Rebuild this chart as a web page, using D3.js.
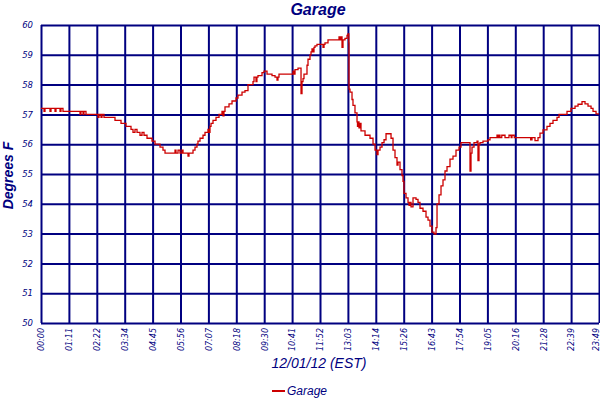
<!DOCTYPE html>
<html>
<head>
<meta charset="utf-8">
<script src="https://cdn.jsdelivr.net/npm/d3@7"></script>
<style>
  html, body { margin: 0; padding: 0; background: #fff; }
  svg { display: block; }
</style>
</head>
<body>
<svg id="chart" width="600" height="400"></svg>
<script>
// ---- data ----
const title = "Garage";
const xTitle = "12/01/12 (EST)";
const yTitle = "Degrees F";
const seriesName = "Garage";
const tickLabels = ["00:00","01:11","02:22","03:34","04:45","05:56","07:07","08:18","09:30","10:41",
  "11:52","13:03","14:14","15:26","16:43","17:54","19:05","20:16","21:28","22:39","23:49"];
const totalMinutes = 1429;
const yTicks = [50,51,52,53,54,55,56,57,58,59,60];

// minutes since 00:00
const minutes = [0,7.7,10.2,23,25.6,35.9,38.4,48.7,51.2,56.3,99.9,102.4,107.6,110.1,115.2,146,148.5,153.7,156.2,161.3,
  189.5,204.9,217.7,230.5,235.6,240.7,245.9,253.5,258.7,263.8,271.5,284.3,292,304.8,312.4,317.6,343.2,345.7,350.9,356,
  361.1,363.7,376.5,379,389.3,394.4,399.5,402,407.2,414.9,420,427.7,430.2,432.8,435.4,440.5,448.2,455.9,463.5,466.1,
  468.6,471.2,481.5,489.2,499.4,504.5,514.8,522.4,530.1,542.9,545.5,550.6,553,555.7,566,571.1,578.8,591.6,599.3,604.4,
  606.9,609.5,637.7,645.4,647.9,650.5,658.2,663.3,665.9,668.4,671,673.5,681.2,683.8,688.9,691.5,694,696.6,699.1,701.7,
  706.8,719.6,722.2,724.8,727.3,735,758.1,763.2,765.8,768.3,770.9,773.4,778.5,783.7,786.2,788.3,788.8,791.3,796.5,799,
  804.1,809.3,810.5,811.8,814.3,816.9,819.5,822.1,829.8,842.6,850.3,855.4,860.5,863.1,868.2,873.3,878.5,883.6,891.3,896.4,
  901.5,906.6,911.7,914.3,919.4,924.5,927.1,929.6,934.8,939.9,942.5,945,947.6,952.7,960.4,965.5,970.6,978.3,986,991.1,
  996.2,1001.4,1006.5,1009,1011.6,1014.2,1019.3,1024.4,1029.5,1034.6,1039.8,1047.4,1055.1,1062.8,1070.5,1075.6,1096.1,1098.7,1101.2,1103.8,
  1108.9,1116.6,1119.1,1121.7,1124.3,1131.9,1144.7,1149.9,1167.8,1170,1172.6,1175.5,1180,1188.3,1198.5,1204,1206.2,1212,1219,1226.7,
  1252.3,1254,1257.4,1265.1,1272.8,1277.9,1285.6,1295.8,1303.5,1311.2,1321.5,1326.6,1341.9,1347.1,1357.3,1367.6,1375.3,1385.5,1393.2,1400.9,
  1408.6,1413.7,1421.4,1429];

const temps = [57.2,57.1,57.2,57.1,57.2,57.1,57.2,57.1,57.2,57.1,57.0,57.1,57.0,57.1,57.0,56.9,57.0,56.9,57.0,56.9,
  56.8,56.7,56.6,56.5,56.4,56.5,56.4,56.3,56.4,56.3,56.2,56.1,56.0,55.9,55.8,55.7,55.8,55.7,55.8,55.7,
  55.8,55.7,55.6,55.7,55.8,55.9,56.0,56.1,56.2,56.3,56.4,56.5,56.4,56.6,56.7,56.8,56.9,57.0,57.1,56.95,
  57.1,57.25,57.35,57.45,57.55,57.65,57.75,57.8,58.0,58.1,58.25,58.1,58.25,58.3,58.4,58.45,58.35,58.3,58.25,58.15,
  58.25,58.35,58.35,58.45,58.35,58.5,58.55,58.55,57.7,58.1,58.2,58.35,58.65,58.85,59.0,59.1,59.2,59.1,59.25,59.3,
  59.35,59.35,59.25,59.35,59.4,59.5,59.5,59.6,59.5,59.6,59.25,59.5,59.55,59.65,59.7,59.4,57.85,57.75,57.5,57.3,
  57.05,56.75,56.6,56.75,56.55,56.7,56.45,56.45,56.3,56.2,56.0,55.8,55.65,55.8,55.9,56.05,56.15,56.35,56.35,56.2,
  55.8,55.55,55.3,55.4,55.15,54.95,54.75,54.35,54.2,54.05,53.95,54.05,53.9,54.2,54.15,54.05,53.85,53.75,53.55,53.45,
  53.25,53.05,53.0,52.98,53.2,54.0,54.3,54.6,54.8,55.1,55.25,55.5,55.6,55.8,55.9,56.05,56.05,55.1,55.7,55.9,
  56.05,56.1,55.45,56.0,56.05,56.1,56.15,56.22,56.3,56.22,56.3,56.22,56.3,56.22,56.3,56.22,56.3,56.22,56.22,56.22,
  56.22,56.15,56.22,56.12,56.22,56.37,56.48,56.6,56.7,56.8,56.9,57.0,57.0,57.1,57.2,57.28,57.34,57.43,57.35,57.28,
  57.2,57.1,57.02,57.02];

// ---- chart ----
const navy = "#000080";
const red = "#cc0000";
const svg = d3.select("#chart");
const plot = { left: 41, right: 599, top: 25, bottom: 323 };

svg.append("rect").attr("width", 600).attr("height", 400).attr("fill", "#fff");

const x = d3.scaleLinear().domain([0, totalMinutes]).range([plot.left, plot.right]);
const y = d3.scaleLinear().domain([50, 60]).range([plot.bottom, plot.top]);

const tickVals = tickLabels.map((d, i) => i * totalMinutes / (tickLabels.length - 1));

// X axis with vertical grid
const xAxis = svg.append("g")
  .attr("transform", `translate(0,${plot.bottom})`)
  .call(d3.axisBottom(x).tickValues(tickVals)
    .tickFormat((d, i) => tickLabels[i])
    .tickSize(-(plot.bottom - plot.top)).tickSizeOuter(0));
xAxis.select(".domain").remove();
xAxis.selectAll(".tick line").attr("stroke", navy).attr("stroke-width", 2);
xAxis.selectAll(".tick text")
  .attr("fill", navy)
  .attr("font-family", "DejaVu Sans, sans-serif")
  .attr("font-style", "italic")
  .attr("font-size", 8)
  .attr("transform", "rotate(-90)")
  .attr("text-anchor", "end")
  .attr("x", -5)
  .attr("y", (d, i) => i === tickLabels.length - 1 ? -3 : 0)
  .attr("dy", "0.35em");

// Y axis with horizontal grid
const yAxis = svg.append("g")
  .attr("transform", `translate(${plot.left},0)`)
  .call(d3.axisLeft(y).tickValues(yTicks).tickFormat(d3.format("d"))
    .tickSize(-(plot.right - plot.left)).tickSizeOuter(0).tickPadding(8));
yAxis.select(".domain").remove();
yAxis.selectAll(".tick line").attr("stroke", navy).attr("stroke-width", 2);
yAxis.selectAll(".tick text")
  .attr("fill", navy)
  .attr("font-family", "DejaVu Sans, sans-serif")
  .attr("font-style", "italic")
  .attr("font-size", 8.5);

// Data line
const pts = minutes.map((m, i) => [m, temps[i]]);
const line = d3.line().x(d => x(d[0])).y(d => y(d[1])).curve(d3.curveStepAfter);
svg.append("path")
  .datum(pts)
  .attr("d", line)
  .attr("fill", "none")
  .attr("stroke", red)
  .attr("stroke-width", 1.3);

// Titles
svg.append("text")
  .attr("x", 318).attr("y", 15)
  .attr("text-anchor", "middle")
  .attr("fill", navy)
  .attr("font-family", "Liberation Sans, Arial, sans-serif")
  .attr("font-weight", "bold").attr("font-style", "italic")
  .attr("font-size", 16)
  .text(title);

svg.append("text")
  .attr("transform", "translate(13,175.5) rotate(-90)")
  .attr("text-anchor", "middle")
  .attr("fill", navy)
  .attr("font-family", "Liberation Sans, Arial, sans-serif")
  .attr("font-weight", "bold").attr("font-style", "italic")
  .attr("font-size", 14)
  .text(yTitle);

svg.append("text")
  .attr("x", 319).attr("y", 368)
  .attr("text-anchor", "middle")
  .attr("fill", navy)
  .attr("font-family", "Liberation Sans, Arial, sans-serif")
  .attr("font-style", "italic")
  .attr("font-size", 14)
  .text(xTitle);

// Legend
const lg = svg.append("g").attr("transform", "translate(272,391)");
lg.append("line").attr("x1", 0).attr("x2", 13).attr("y1", 0).attr("y2", 0)
  .attr("stroke", red).attr("stroke-width", 2);
lg.append("text")
  .attr("x", 15).attr("y", 4)
  .attr("fill", navy)
  .attr("font-family", "Liberation Sans, Arial, sans-serif")
  .attr("font-style", "italic")
  .attr("font-size", 12)
  .text(seriesName);
</script>
</body>
</html>
